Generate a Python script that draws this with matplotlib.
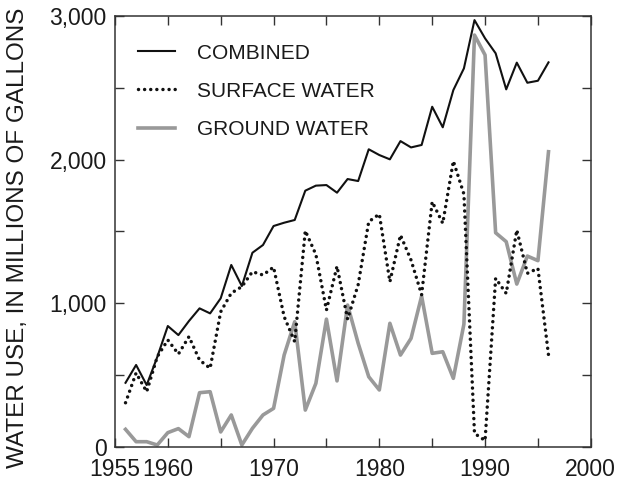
import matplotlib
matplotlib.use("Agg")
import matplotlib.pyplot as plt
from matplotlib.ticker import FixedLocator, FuncFormatter

years = list(range(1956, 1997))
combined = [447, 571, 431, 626, 842, 779, 877, 965, 930, 1035,
            1267, 1120, 1352, 1406, 1538, 1561, 1580, 1784, 1819, 1823,
            1770, 1865, 1851, 2072, 2032, 2002, 2129, 2085, 2102, 2368,
            2225, 2484, 2635, 2971, 2844, 2740, 2489, 2675, 2535, 2549,
            2677]
surface = [308, 515, 385, 628, 745, 647, 768, 605, 548, 941,
           1071, 1116, 1220, 1197, 1252, 907, 733, 1505, 1340, 953,
           1258, 890, 1130, 1568, 1621, 1150, 1475, 1301, 1060, 1707,
           1557, 1990, 1760, 95, 45, 1174, 1069, 1510, 1209, 1243,
           640]
ground = [123, 37, 37, 14, 100, 128, 72, 378, 385, 105,
          223, 14, 130, 223, 269, 640, 872, 257, 443, 890,
          460, 988, 722, 489, 397, 861, 640, 756, 1050, 652,
          663, 478, 855, 2867, 2728, 1491, 1429, 1134, 1329, 1297,
          2055]

x_major = [1955, 1960, 1970, 1980, 1990, 2000]
x_minor = [1965, 1975, 1985, 1995]
y_major = [0, 1000, 2000, 3000]
y_minor = [500, 1500, 2500]

plt.rcParams['font.family'] = ['Liberation Sans', 'DejaVu Sans']
txt = '#1a1a1a'

fig = plt.figure(figsize=(6.18, 4.83), dpi=100)
ax = fig.add_axes([0.186, 0.0745, 0.770, 0.8925])

ax.plot(years, combined, color='#111111', lw=1.5, label='COMBINED', zorder=4)
ax.plot(years, surface, color='#111111', lw=2.5, linestyle=(0, (0.01, 1.75)),
        dash_capstyle='round', label='SURFACE WATER', zorder=3)
ax.plot(years, ground, color='#999999', lw=2.6, label='GROUND WATER', zorder=2)

ax.set_xlim(1955, 2000)
ax.set_ylim(0, 3000)

ax.xaxis.set_major_locator(FixedLocator(x_major))
ax.xaxis.set_minor_locator(FixedLocator(x_minor))
ax.yaxis.set_major_locator(FixedLocator(y_major))
ax.yaxis.set_minor_locator(FixedLocator(y_minor))
ax.yaxis.set_major_formatter(FuncFormatter(lambda v, p: f"{int(v):,}"))
ax.xaxis.set_major_formatter(FuncFormatter(lambda v, p: f"{int(v)}"))

ax.tick_params(which='both', direction='in', top=True, right=True,
               length=6.5, width=1.0, color='#333333',
               labelsize=16.5, labelcolor=txt)
ax.tick_params(axis='x', which='major', pad=8)
ax.tick_params(axis='y', which='major', pad=6)
for s in ax.spines.values():
    s.set_linewidth(1.1)
    s.set_color('#333333')

ax.set_ylabel('WATER USE, IN MILLIONS OF GALLONS', fontsize=17.5, color=txt)
ax.yaxis.set_label_coords(-0.181, 0.486)

leg = ax.legend(loc='upper left', frameon=False, fontsize=15,
                handlelength=1.8, handletextpad=1.05, labelspacing=0.92,
                bbox_to_anchor=(0.048, 0.936), borderaxespad=0, borderpad=0)
for t in leg.get_texts():
    t.set_color(txt)

fig.savefig('out.png', dpi=100)
